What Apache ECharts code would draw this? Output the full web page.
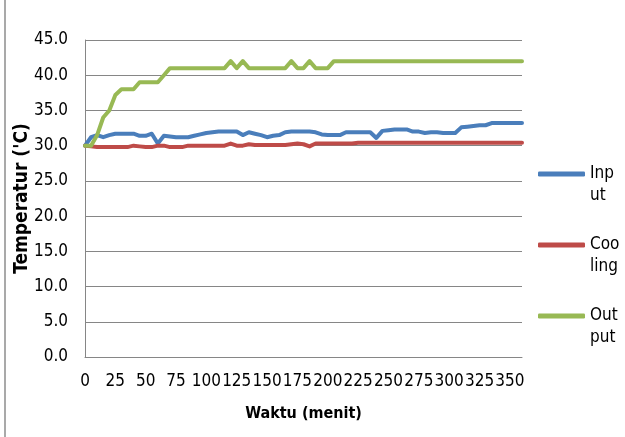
<!DOCTYPE html>
<html>
<head>
<meta charset="utf-8">
<script src="https://cdn.jsdelivr.net/npm/echarts@6/dist/echarts.min.js"></script>
<style>html,body{margin:0;padding:0;background:#fff}#c{width:625px;height:437px}</style>
</head>
<body>
<div id="c"></div>
<script>
const minutes = ['0','5','10','15','20','25','30','35','40','45','50','55','60','65','70','75','80','85','90','95','100','105','110','115','120','125','130','135','140','145','150','155','160','165','170','175','180','185','190','195','200','205','210','215','220','225','230','235','240','245','250','255','260','265','270','275','280','285','290','295','300','305','310','315','320','325','330','335','340','345','350','355','360'];
const input = [30,31.2,31.5,31.2,31.5,31.7,31.7,31.7,31.7,31.4,31.4,31.7,30.3,31.4,31.3,31.2,31.2,31.2,31.4,31.6,31.8,31.9,32,32,32,32,31.5,31.9,31.7,31.5,31.2,31.4,31.5,31.9,32,32,32,32,31.9,31.6,31.5,31.5,31.5,31.9,31.9,31.9,31.9,31.9,31.1,32.1,32.2,32.3,32.3,32.3,32.0,32.0,31.8,31.9,31.9,31.8,31.8,31.8,32.6,32.7,32.8,32.9,32.9,33.2,33.2,33.2,33.2,33.2,33.2];
const cooling = [30,29.9,29.8,29.8,29.8,29.8,29.8,29.8,30,29.9,29.8,29.8,30,30,29.8,29.8,29.8,30,30,30,30,30,30,30,30.3,30,30,30.2,30.1,30.1,30.1,30.1,30.1,30.1,30.2,30.3,30.2,29.9,30.3,30.3,30.3,30.3,30.3,30.3,30.3,30.4,30.4,30.4,30.4,30.4,30.4,30.4,30.4,30.4,30.4,30.4,30.4,30.4,30.4,30.4,30.4,30.4,30.4,30.4,30.4,30.4,30.4,30.4,30.4,30.4,30.4,30.4,30.4];
const output = [30,30,31.5,34,35,37.2,38,38,38,39,39,39,39,40,41,41,41,41,41,41,41,41,41,41,42,41,42,41,41,41,41,41,41,41,42,41,41,42,41,41,41,42,42,42,42,42,42,42,42,42,42,42,42,42,42,42,42,42,42,42,42,42,42,42,42,42,42,42,42,42,42,42,42];
const seriesNames = ['Input','Cooling','Output'];
const legendLabels = {Input:'\nInp\nut', Cooling:'\nCoo\nling', Output:'\nOut\nput'};
const colors = ['#4A7EBB','#BE4B48','#98B954'];

const font = "'Liberation Sans Narrow','DejaVu Sans Condensed',sans-serif";
const chart = echarts.init(document.getElementById('c'), null, {renderer:'canvas'});
chart.setOption({
  animation:false,
  color: colors,
  grid:{left:85, top:40, right:103, bottom:80, containLabel:false, outerBoundsMode:'none'},
  graphic:[{type:'line', shape:{x1:5,y1:0,x2:5,y2:437}, style:{stroke:'#8c8c8c', lineWidth:1.5}}],
  legend:{
    orient:'vertical', left:538, top:141, padding:0, itemWidth:47, itemHeight:5, itemGap:5,
    icon:'roundRect',
    formatter: n => legendLabels[n],
    textStyle:{fontFamily:font, fontSize:17, color:'#000', lineHeight:22},
    data: seriesNames
  },
  xAxis:{
    type:'category', data:minutes, boundaryGap:false,
    name:'Waktu (menit)', nameLocation:'middle', nameGap:49,
    nameTextStyle:{fontFamily:font, fontSize:16, fontWeight:'bold', color:'#000'},
    axisLine:{lineStyle:{color:'#868686', width:1}},
    axisTick:{show:false},
    axisLabel:{interval:(i)=>i%5===0, fontFamily:font, fontSize:17, color:'#000', margin:16, hideOverlap:false, showMaxLabel:true, showMinLabel:true},
    splitLine:{show:false}
  },
  yAxis:{
    type:'value', min:0, max:45, interval:5,
    name:"Temperatur ('C)", nameLocation:'middle', nameGap:53, nameMoveOverlap:false,
    nameTextStyle:{fontFamily:font, fontSize:19, fontWeight:'bold', color:'#000'},
    axisLine:{show:true, lineStyle:{color:'#868686', width:1}},
    axisTick:{show:false},
    axisLabel:{fontFamily:font, fontSize:17, color:'#000', margin:17, formatter:v=>v.toFixed(1)},
    splitLine:{lineStyle:{color:'#868686', width:1}}
  },
  series:[
    {name:seriesNames[0], type:'line', data:input, symbol:'none', lineStyle:{width:4, join:'round', cap:'round'}},
    {name:seriesNames[1], type:'line', data:cooling, symbol:'none', lineStyle:{width:4, join:'round', cap:'round'}},
    {name:seriesNames[2], type:'line', data:output, symbol:'none', lineStyle:{width:4, join:'round', cap:'round'}}
  ]
});
</script>
</body>
</html>
